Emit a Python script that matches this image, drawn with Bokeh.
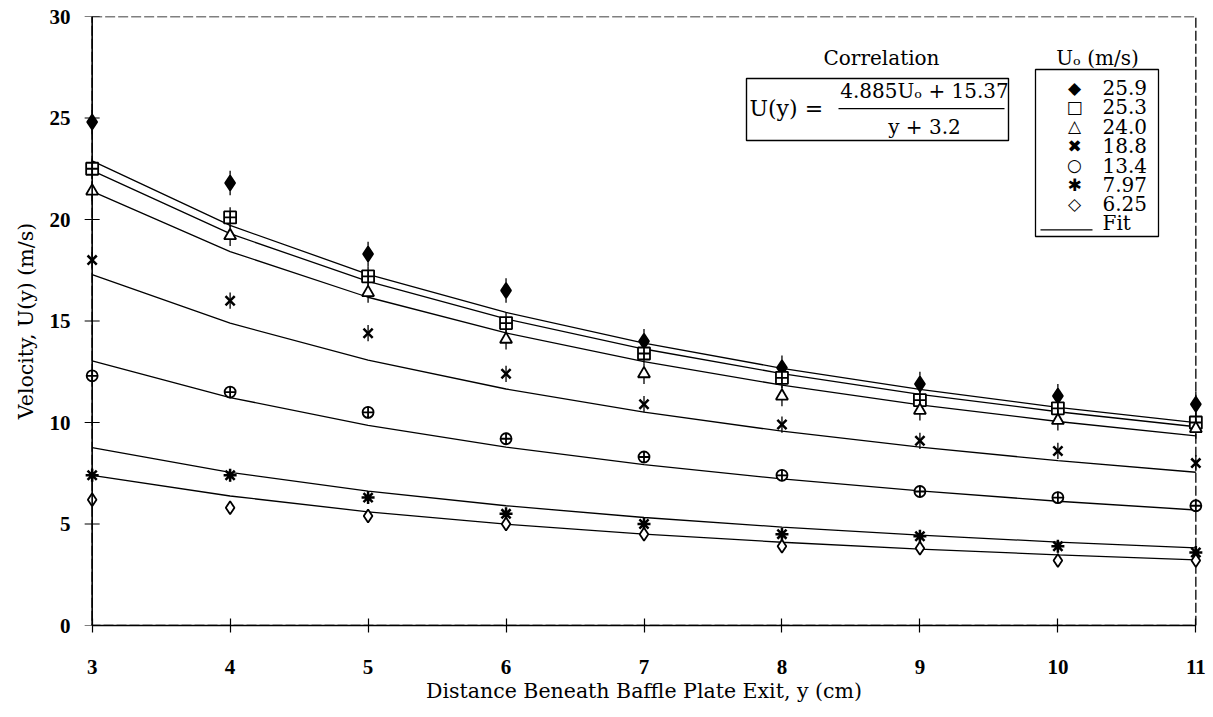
from bokeh.plotting import figure
from bokeh.models import Label, BoxAnnotation, FixedTicker, Title, Span
from bokeh.embed import file_html
from bokeh.resources import INLINE

# ---------------- data ----------------
y_cm = [3, 4, 5, 6, 7, 8, 9, 10, 11]
x_ticks = [3, 4, 5, 6, 7, 8, 9, 10, 11]
y_ticks = [0, 5, 10, 15, 20, 25, 30]

u0_labels = ["25.9", "25.3", "24.0", "18.8", "13.4", "7.97", "6.25"]

# measured velocities (m/s)
u_259 = [24.8, 21.8, 18.3, 16.5, 14.0, 12.7, 11.9, 11.3, 10.9]
u_253 = [22.5, 20.1, 17.2, 14.9, 13.4, 12.2, 11.1, 10.7, 10.0]
u_240 = [21.4, 19.2, 16.4, 14.1, 12.4, 11.3, 10.6, 10.1, 9.7]
u_188 = [18.0, 16.0, 14.4, 12.4, 10.9, 9.9, 9.1, 8.6, 8.0]
u_134 = [12.3, 11.5, 10.5, 9.2, 8.3, 7.4, 6.6, 6.3, 5.9]
u_797 = [7.4, 7.4, 6.3, 5.5, 5.0, 4.5, 4.4, 3.9, 3.6]
u_625 = [6.2, 5.8, 5.4, 5.0, 4.5, 3.9, 3.8, 3.2, 3.2]

# half-length of the error bars (m/s)
err = [0.6, 0.5, 0.5, 0.4, 0.3, 0.3, 0.3]

# correlation fit values read at each y
fit_259 = [22.89, 19.71, 17.30, 15.42, 13.91, 12.67, 11.63, 10.75, 9.99]
fit_253 = [22.41, 19.30, 16.95, 15.10, 13.62, 12.41, 11.39, 10.53, 9.79]
fit_240 = [21.39, 18.42, 16.17, 14.41, 13.00, 11.84, 10.87, 10.05, 9.34]
fit_188 = [17.29, 14.89, 13.07, 11.65, 10.51, 9.57, 8.79, 8.12, 7.55]
fit_134 = [13.04, 11.23, 9.86, 8.79, 7.92, 7.22, 6.63, 6.12, 5.69]
fit_797 = [8.76, 7.54, 6.62, 5.90, 5.32, 4.85, 4.45, 4.11, 3.82]
fit_625 = [7.40, 6.38, 5.60, 4.99, 4.50, 4.10, 3.76, 3.48, 3.23]

measured = [u_259, u_253, u_240, u_188, u_134, u_797, u_625]
fits = [fit_259, fit_253, fit_240, fit_188, fit_134, fit_797, fit_625]

# ---------------- styling ----------------
SERIF = "DejaVu Serif"
TICKFONT = "Liberation Serif"
SYMFONT = "DejaVu Sans"

W, H = 1213, 717
LEFT, RIGHT, TOP, BOTTOM = 82, 8, 16, 92
X0, X1 = 2.93, 11.07   # small padding so edge markers are not clipped
Y0, Y1 = 0, 30

p = figure(width=W, height=H, x_range=(X0, X1), y_range=(Y0, Y1),
           output_backend="svg", toolbar_location=None,
           min_border_left=LEFT, min_border_right=RIGHT,
           min_border_top=TOP, min_border_bottom=BOTTOM,
           background_fill_color="white", border_fill_color="white")

p.xgrid.grid_line_color = None
p.ygrid.grid_line_color = None
p.outline_line_color = None

# x axis (drawn only between 3 and 11)
xax = p.xaxis[0]
xax.ticker = FixedTicker(ticks=x_ticks)
xax.bounds = (3, 11)
xax.axis_line_width = 1.6
xax.axis_line_color = "black"
xax.major_tick_in = 7
xax.major_tick_out = 7
xax.major_tick_line_width = 1.2
xax.major_tick_line_color = "black"
xax.minor_tick_line_color = None
xax.major_label_text_font = TICKFONT
xax.major_label_text_font_style = "bold"
xax.major_label_text_font_size = "21px"
xax.major_label_text_color = "black"
xax.major_label_standoff = 27
xax.axis_label = None

# y axis: labels only (line and ticks are drawn at y = 3 cm below)
yax = p.yaxis[0]
yax.ticker = FixedTicker(ticks=y_ticks)
yax.axis_line_color = None
yax.major_tick_line_color = None
yax.minor_tick_line_color = None
yax.major_tick_in = 0
yax.major_tick_out = 0
yax.major_label_standoff = 12
yax.major_label_text_font = TICKFONT
yax.major_label_text_font_style = "bold"
yax.major_label_text_font_size = "21px"
yax.major_label_text_color = "black"
yax.axis_label = "Velocity, U(y) (m/s)"
yax.axis_label_text_font = SERIF
yax.axis_label_text_font_style = "normal"
yax.axis_label_text_font_size = "20.5px"
yax.axis_label_text_color = "black"
yax.axis_label_standoff = 9

p.add_layout(Title(text="Distance Beneath Baffle Plate Exit, y (cm)",
                   align="center", offset=0, standoff=0,
                   text_font=SERIF, text_font_size="20.5px",
                   text_font_style="normal", text_color="black"), "below")

# dashed frame on top and right
p.add_layout(BoxAnnotation(left=3, right=11, bottom=0, top=30,
                           fill_alpha=0, line_color="black", line_alpha=1,
                           line_width=1.3, line_dash="10 3",
                           level="underlay"))

# solid vertical axis line at y = 3 cm with crossing tick marks
p.add_layout(Span(location=x_ticks[0], dimension="height",
                  line_color="black", line_width=1.6))
p.scatter([x_ticks[0]] * len(y_ticks), y_ticks, marker="dash", size=15,
          line_color="black", line_width=1.2)

# fit lines
for f in fits:
    p.line(y_cm, f, line_color="black", line_width=1.3)

# plot markers with error-bar crosses
plot_markers = ["diamond", "square_cross", "triangle", "x", "circle_cross",
                "asterisk", "diamond"]
filled = [True, False, False, False, False, False, False]
sizes = [15, 12, 12, 13, 11, 13, 13]
widths = [1.8, 1.8, 1.8, 2.5, 1.8, 2.5, 1.8]

for i, vals in enumerate(measured):
    e = err[i]
    p.segment(x0=y_cm, y0=[v - e for v in vals], x1=y_cm,
              y1=[v + e for v in vals], line_color="black", line_width=1.3)
    fc = "black" if filled[i] else "white"
    p.scatter(y_cm, vals, marker=plot_markers[i], size=sizes[i],
              line_color="black", fill_color=fc, line_width=widths[i])


# helpers to place annotations at pixel positions of the canvas
def dx(px):
    return X0 + (px - LEFT) * (X1 - X0) / (W - LEFT - RIGHT)


def dy(py):
    return Y0 + (H - BOTTOM - py) * (Y1 - Y0) / (H - TOP - BOTTOM)


def label(px, py, text, size, font=SERIF, align="center", style="normal"):
    p.add_layout(Label(x=dx(px), y=dy(py), text=text, text_font=font,
                       text_font_size=size, text_font_style=style,
                       text_color="black", text_align=align,
                       text_baseline="middle"))


# ---------------- legend (drawn as annotations) ----------------
legend_symbols = ["\u25c6", "\u25a1", "\u25b3", "\u2716", "\u25cb",
                  "\u2731", "\u25c7"]
p.add_layout(BoxAnnotation(left=dx(1035), right=dx(1158), top=dy(69),
                           bottom=dy(236), fill_color="white", fill_alpha=1,
                           line_color="black", line_alpha=1, line_width=1.3))
label(1097, 57, "U\u2092 (m/s)", "20px")
ROW0, PITCH = 87, 19.4
for i, lab in enumerate(u0_labels):
    yrow = ROW0 + i * PITCH
    label(1074, yrow, legend_symbols[i], "17px", font=SYMFONT, style="bold")
    label(1102, yrow, lab, "20px", align="left")
yfit = ROW0 + 7 * PITCH
p.add_layout(BoxAnnotation(left=dx(1040), right=dx(1092), top=dy(yfit + 6),
                           bottom=dy(yfit + 7.2), fill_color="black",
                           fill_alpha=1, line_color=None))
label(1102, yfit, "Fit", "20px", align="left")

# ---------------- correlation box ----------------
p.add_layout(BoxAnnotation(left=dx(746), right=dx(1008), top=dy(78),
                           bottom=dy(140), fill_color="white", fill_alpha=1,
                           line_color="black", line_alpha=1, line_width=1.4))
label(881, 57, "Correlation", "20px")
label(749, 108, "U(y) =", "22px", align="left")
label(924, 90, "4.885U\u2092 + 15.37", "20px")
p.add_layout(BoxAnnotation(left=dx(838), right=dx(1004), top=dy(107.5),
                           bottom=dy(108.7), fill_color="black", fill_alpha=1,
                           line_color=None))
label(924, 126, "y + 3.2", "20px")

open("out.html", "w").write(file_html(p, INLINE))
